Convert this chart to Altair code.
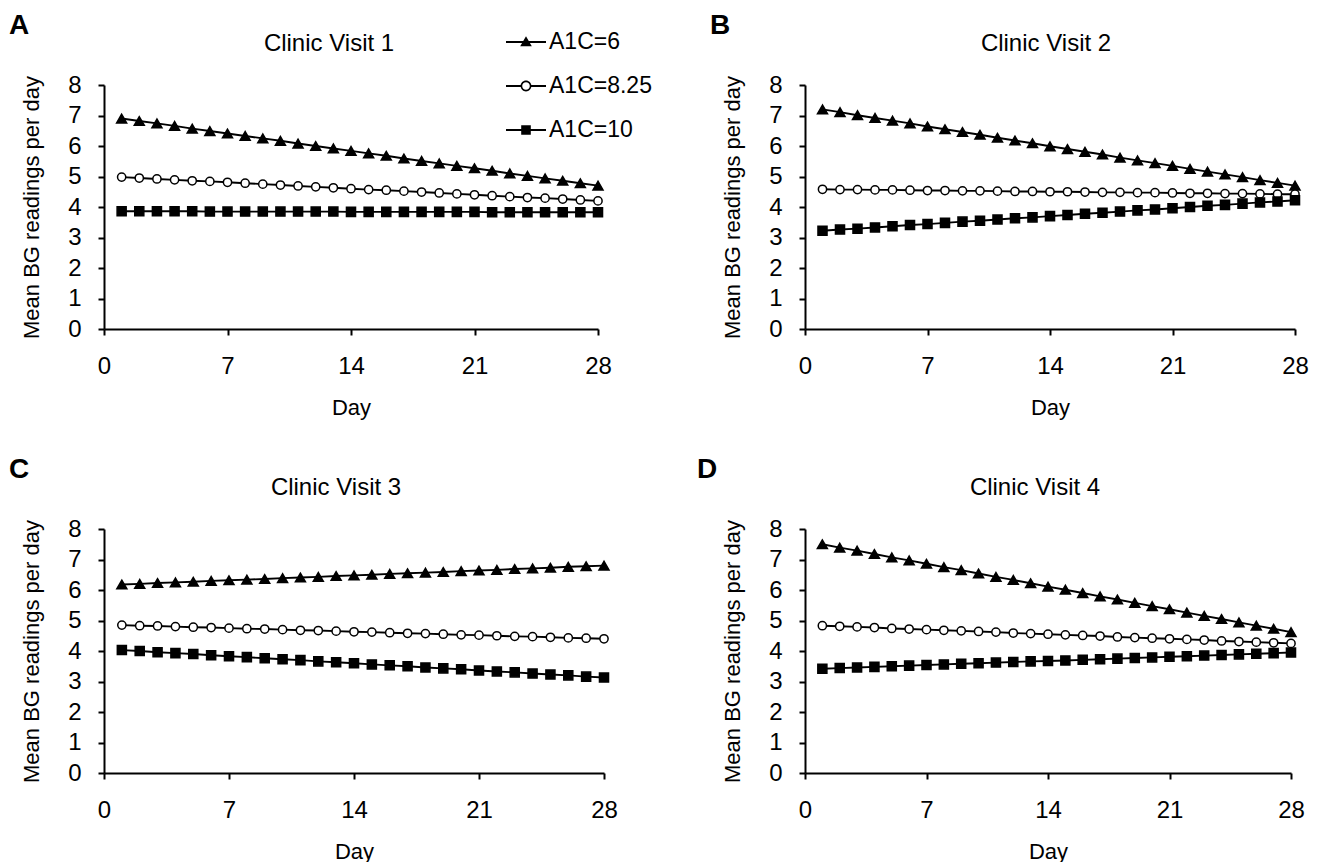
import altair as alt
import pandas as pd

days = list(range(1, 29))
series_names = ["A1C=6", "A1C=8.25", "A1C=10"]

# Clinic visit 1
v1_a1c6 = [6.90, 6.82, 6.74, 6.66, 6.57, 6.49, 6.41, 6.33, 6.25, 6.17, 6.08, 6.00, 5.92, 5.84,
           5.76, 5.68, 5.59, 5.51, 5.43, 5.35, 5.27, 5.19, 5.10, 5.02, 4.94, 4.86, 4.78, 4.70]
v1_a1c825 = [4.98, 4.95, 4.92, 4.89, 4.86, 4.84, 4.81, 4.78, 4.75, 4.72, 4.69, 4.66, 4.63, 4.60,
             4.57, 4.55, 4.52, 4.49, 4.46, 4.43, 4.40, 4.37, 4.34, 4.31, 4.29, 4.26, 4.23, 4.20]
v1_a1c10 = [3.86, 3.86, 3.86, 3.86, 3.86, 3.85, 3.85, 3.85, 3.85, 3.85, 3.85, 3.85, 3.85, 3.84,
            3.84, 3.84, 3.84, 3.84, 3.84, 3.84, 3.84, 3.83, 3.83, 3.83, 3.83, 3.83, 3.83, 3.83]

# Clinic visit 2
v2_a1c6 = [7.20, 7.11, 7.01, 6.92, 6.83, 6.74, 6.64, 6.55, 6.46, 6.37, 6.27, 6.18, 6.09, 5.99,
           5.90, 5.81, 5.72, 5.62, 5.53, 5.44, 5.35, 5.25, 5.16, 5.07, 4.98, 4.88, 4.79, 4.70]
v2_a1c825 = [4.58, 4.57, 4.57, 4.56, 4.56, 4.55, 4.54, 4.54, 4.53, 4.53, 4.52, 4.51, 4.51, 4.50,
             4.50, 4.49, 4.48, 4.48, 4.47, 4.47, 4.46, 4.45, 4.45, 4.44, 4.44, 4.43, 4.42, 4.42]
v2_a1c10 = [3.22, 3.26, 3.29, 3.33, 3.37, 3.41, 3.44, 3.48, 3.52, 3.55, 3.59, 3.63, 3.66, 3.70,
            3.74, 3.78, 3.81, 3.85, 3.89, 3.92, 3.96, 4.00, 4.04, 4.07, 4.11, 4.15, 4.18, 4.22]

# Clinic visit 3
v3_a1c6 = [6.18, 6.20, 6.23, 6.25, 6.27, 6.30, 6.32, 6.34, 6.36, 6.39, 6.41, 6.43, 6.46, 6.48,
           6.50, 6.53, 6.55, 6.57, 6.59, 6.62, 6.64, 6.66, 6.69, 6.71, 6.73, 6.76, 6.78, 6.80]
v3_a1c825 = [4.85, 4.83, 4.82, 4.80, 4.78, 4.77, 4.75, 4.73, 4.72, 4.70, 4.68, 4.67, 4.65, 4.63,
             4.62, 4.60, 4.58, 4.57, 4.55, 4.53, 4.52, 4.50, 4.48, 4.47, 4.45, 4.43, 4.42, 4.40]
v3_a1c10 = [4.03, 4.00, 3.96, 3.93, 3.90, 3.86, 3.83, 3.80, 3.76, 3.73, 3.70, 3.66, 3.63, 3.60,
            3.56, 3.53, 3.50, 3.46, 3.43, 3.40, 3.36, 3.33, 3.30, 3.26, 3.23, 3.20, 3.16, 3.13]

# Clinic visit 4
v4_a1c6 = [7.50, 7.39, 7.29, 7.18, 7.07, 6.97, 6.86, 6.75, 6.65, 6.54, 6.43, 6.33, 6.22, 6.11,
           6.01, 5.90, 5.79, 5.69, 5.58, 5.47, 5.37, 5.26, 5.15, 5.05, 4.94, 4.83, 4.73, 4.62]
v4_a1c825 = [4.83, 4.81, 4.79, 4.77, 4.74, 4.72, 4.70, 4.68, 4.66, 4.64, 4.62, 4.59, 4.57, 4.55,
             4.53, 4.51, 4.49, 4.46, 4.44, 4.42, 4.40, 4.38, 4.36, 4.33, 4.31, 4.29, 4.27, 4.25]
v4_a1c10 = [3.42, 3.44, 3.46, 3.48, 3.50, 3.52, 3.54, 3.56, 3.58, 3.60, 3.62, 3.64, 3.66, 3.67,
            3.69, 3.71, 3.73, 3.75, 3.77, 3.79, 3.81, 3.83, 3.85, 3.87, 3.89, 3.91, 3.93, 3.95]

x_ticks = [0, 7, 14, 21, 28]
y_ticks = [0, 1, 2, 3, 4, 5, 6, 7, 8]
panel_letters = ["A", "B", "C", "D"]
panel_titles = ["Clinic Visit 1", "Clinic Visit 2", "Clinic Visit 3", "Clinic Visit 4"]
panel_series = [
    [v1_a1c6, v1_a1c825, v1_a1c10],
    [v2_a1c6, v2_a1c825, v2_a1c10],
    [v3_a1c6, v3_a1c825, v3_a1c10],
    [v4_a1c6, v4_a1c825, v4_a1c10],
]

FONT = "Liberation Sans"
H = 244
panel_widths = [494, 490, 500, 486]
letter_dx = [-85, -85, -85, -98]
title_dx = [-22, -4, -18, -13]

point_styles = {
    "A1C=6": dict(shape="triangle-up", fill="black", size=100),
    "A1C=8.25": dict(shape="circle", fill="white", size=68),
    "A1C=10": dict(shape="square", fill="black", size=82),
}

# legend glyphs: a short line with the marker on it (filled shapes only);
# the zero-length moves at (0,+-1) fix the glyph box height
BOX = "M0,-1L0,-1M0,1L0,1M-1,0L-1,0M1,0L1,0"
legend_paths = [
    BOX + "M-1,-0.045H1V0.045H-1Z M0,-0.29L0.29,0.21L-0.29,0.21Z",
    BOX + "M-1,-0.045H-0.21V0.045H-1Z M0.21,-0.045H1V0.045H0.21Z"
    "M0.27,0A0.27,0.27 0 1,1 -0.27,0A0.27,0.27 0 1,1 0.27,0Z"
    "M0.19,0A0.19,0.19 0 1,0 -0.19,0A0.19,0.19 0 1,0 0.19,0Z",
    BOX + "M-1,-0.045H1V0.045H-1Z M-0.24,-0.24H0.24V0.24H-0.24Z",
]


def make_panel(i):
    w = panel_widths[i]
    rows = []
    for name, vals in zip(series_names, panel_series[i]):
        for d, v in zip(days, vals):
            rows.append({"day": d, "value": v, "series": name})
    df = pd.DataFrame(rows)

    x = alt.X("day:Q", scale=alt.Scale(domain=[0, 28], nice=False),
              axis=alt.Axis(values=x_ticks, title="Day", labelFlush=False,
                            labelPadding=19, titleY=78, titleBaseline="middle"))
    y = alt.Y("value:Q", scale=alt.Scale(domain=[0, 8], nice=False),
              axis=alt.Axis(values=y_ticks, title="Mean BG readings per day",
                            labelPadding=17, titleX=-73, titleY=H / 2,
                            titleAngle=270, titleBaseline="middle", titleAlign="center"))

    base = alt.Chart(df)
    line = base.mark_line(color="black", strokeWidth=1.9).encode(x=x, y=y, detail="series:N")
    layers = [line]
    for name in series_names:
        st = point_styles[name]
        layers.append(
            base.transform_filter(alt.datum.series == name)
            .mark_point(shape=st["shape"], filled=True, fill=st["fill"], stroke="black",
                        strokeWidth=1.5, size=st["size"], opacity=1)
            .encode(x=x, y=y)
        )

    letter = alt.Chart(pd.DataFrame({"t": [panel_letters[i]]})).mark_text(
        font=FONT, fontSize=28, fontWeight="bold", color="black", align="center",
        baseline="alphabetic"
    ).encode(text="t:N", x=alt.value(letter_dx[i]), y=alt.value(-51))
    title = alt.Chart(pd.DataFrame({"t": [panel_titles[i]]})).mark_text(
        font=FONT, fontSize=24, color="black", align="center", baseline="middle"
    ).encode(text="t:N", x=alt.value(w / 2 + title_dx[i]), y=alt.value(-41))
    layers += [letter, title]

    if i == 0:
        legend_layer = base.mark_point(filled=True, fill="black", stroke="black",
                                       strokeWidth=0, opacity=0).encode(
            x=x, y=y,
            shape=alt.Shape("series:N", sort=series_names,
                            scale=alt.Scale(domain=series_names, range=legend_paths),
                            legend=alt.Legend(title=None, orient="none", legendX=402, legendY=-63,
                                              symbolSize=1600, symbolFillColor="black",
                                              symbolStrokeColor="black", symbolStrokeWidth=0,
                                              symbolOpacity=1, labelFontSize=23, labelFont=FONT,
                                              labelColor="black", labelOffset=3, rowPadding=4,
                                              padding=0)),
        )
        layers.append(legend_layer)
        anchor = alt.Chart(pd.DataFrame({"t": [0]})).mark_rule(opacity=0, strokeWidth=0).encode(
            x=alt.value(-95), x2=alt.value(-95), y=alt.value(-77), y2=alt.value(-77))
        layers.append(anchor)

    return alt.layer(*layers).properties(width=w, height=H)


chart = alt.concat(
    *[make_panel(i) for i in range(4)],
    columns=2,
    spacing={"row": 200, "column": 201},
    bounds="flush",
    align="none",
).properties(padding=0).configure(font=FONT).configure_view(stroke=None).configure_axis(
    grid=False, domainColor="black", domainWidth=2, tickColor="black", tickWidth=2, tickSize=6,
    labelColor="black", labelFontSize=24, labelFont=FONT, titleColor="black", titleFontSize=22,
    titleFont=FONT, titleFontWeight="normal", labelOverlap=False,
)

chart.save("out.html", embed_options={"renderer": "svg", "actions": False})
